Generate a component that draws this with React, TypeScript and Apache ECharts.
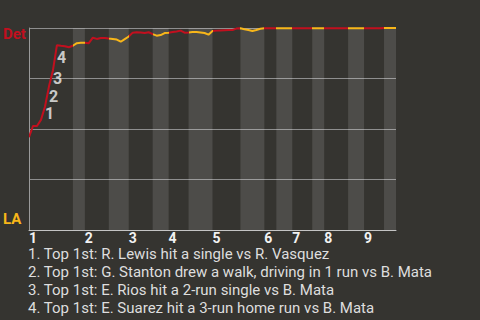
import React, { useEffect, useRef } from "react";
import * as echarts from "echarts";

// Play index (x) and Detroit win probability (y)
const plays = [
  0, 1, 2, 3, 4, 5, 6, 7, 8, 9, 10, 11, 12, 13, 14, 15, 16, 17, 18, 19, 20, 21, 22, 23, 24, 25,
  26, 27, 28, 29, 30, 31, 32, 33, 34, 35, 36, 37, 38, 39, 40, 41, 42, 43, 44, 45, 46, 47, 48, 49,
  50, 51, 52, 53, 54, 55, 56, 57, 58, 59, 62, 66, 71, 74, 80, 84, 88, 89, 92,
];
const winProb = [
  0.46, 0.515, 0.515, 0.545, 0.61, 0.71, 0.79, 0.915, 0.912, 0.91, 0.905, 0.912, 0.925, 0.927,
  0.927, 0.925, 0.952, 0.946, 0.95, 0.951, 0.948, 0.946, 0.943, 0.932, 0.945, 0.958, 0.977, 0.979,
  0.978, 0.975, 0.979, 0.97, 0.962, 0.965, 0.975, 0.977, 0.98, 0.983, 0.987, 0.977, 0.978, 0.98,
  0.98, 0.978, 0.975, 0.967, 0.985, 0.987, 0.988, 0.989, 0.99, 0.99, 0.997, 0.999, 0.994, 0.99,
  0.985, 0.99, 0.996, 0.999, 0.999, 0.999, 0.999, 0.999, 0.999, 0.999, 0.999, 1.0, 1.0,
];

// Half-inning starts (play index)
const topStarts = [0, 14, 25, 35, 46, 59, 66, 74, 84];
const bottomStarts = [11, 20, 31, 40, 53, 62, 71, 80, 89];
const lastPlay = 92;

// Annotated plays (index of the play that ends each annotated segment)
const annotatedPlays = [4, 5, 6, 7];
const notes = [
  "Top 1st: R. Lewis hit a single vs R. Vasquez",
  "Top 1st: G. Stanton drew a walk, driving in 1 run vs B. Mata",
  "Top 1st: E. Rios hit a 2-run single vs B. Mata",
  "Top 1st: E. Suarez hit a 3-run home run vs B. Mata",
];

const teamTop = "Det";
const teamBottom = "LA";

const RED = "#c20f1e";
const GOLD = "#f8b619";

export default function App() {
  const ref = useRef<HTMLDivElement>(null);

  useEffect(() => {
    if (!ref.current) return;
    const chart = echarts.init(ref.current, null, { renderer: "svg" });

    const lineData = plays.map((p, i) => [p, winProb[i]]);
    const pieces: any[] = [];
    topStarts.forEach((s, i) => {
      pieces.push({ gte: s, lt: bottomStarts[i], color: RED });
      pieces.push({ gte: bottomStarts[i], lt: i + 1 < topStarts.length ? topStarts[i + 1] : lastPlay + 1, color: GOLD });
    });
    const bands = bottomStarts.map((s, i) => [
      { xAxis: s },
      { xAxis: i + 1 < topStarts.length ? topStarts[i + 1] : lastPlay },
    ]);
    const annData = annotatedPlays.map((p, i) => {
      const k = plays.indexOf(p);
      return {
        value: [(plays[k - 1] + plays[k]) / 2, (winProb[k - 1] + winProb[k]) / 2],
        label: { formatter: String(i + 1) },
      };
    });

    chart.setOption({
      animation: false,
      backgroundColor: "#353430",
      textStyle: { fontFamily: "Roboto" },
      title: {
        text: notes.map((n, i) => `${i + 1}. ${n}`).join("\n"),
        left: 28,
        top: 245,
        padding: 0,
        textStyle: {
          color: "#dedede",
          fontSize: 15,
          fontWeight: "normal",
          lineHeight: 18,
          fontFamily: "Roboto",
        },
      },
      grid: { left: 28, right: 84, top: 28, bottom: 90 },
      xAxis: {
        type: "value",
        min: 0,
        max: lastPlay,
        axisLine: { show: true, lineStyle: { color: "#c4c4c4", width: 1 } },
        axisTick: { show: false },
        splitLine: { show: false },
        axisLabel: {
          customValues: topStarts,
          formatter: (v: number) => String(topStarts.indexOf(v) + 1),
          align: "left",
          color: "#f2f2f2",
          fontWeight: "bold",
          fontSize: 14,
          lineHeight: 10,
          margin: 3,
        },
      },
      yAxis: {
        type: "value",
        min: 0,
        max: 1,
        interval: 0.25,
        axisLine: { show: true, lineStyle: { color: "#9a9a9a", width: 1 } },
        axisTick: { show: false },
        splitLine: { lineStyle: { color: "#8e8e8e", width: 1 } },
        axisLabel: {
          align: "left",
          margin: 26,
          formatter: (v: number) =>
            v === 1 ? `{top|${teamTop}}` : v === 0 ? `{bot|${teamBottom}}` : "",
          rich: {
            top: { color: RED, fontWeight: "bold", fontSize: 15, padding: [12, 0, 0, 0] },
            bot: { color: GOLD, fontWeight: "bold", fontSize: 15, padding: [0, 0, 22, 0] },
          },
        },
      },
      visualMap: {
        type: "piecewise",
        show: false,
        dimension: 0,
        seriesIndex: 0,
        pieces,
      },
      series: [
        {
          type: "line",
          data: lineData,
          showSymbol: false,
          lineStyle: { width: 2 },
          z: 3,
          markArea: {
            silent: true,
            itemStyle: { color: "rgba(255,255,255,0.12)" },
            data: bands,
          },
        },
        {
          type: "scatter",
          data: annData,
          symbolSize: 0,
          z: 4,
          label: {
            show: true,
            position: "right",
            distance: 2,
            color: "#f2f2f2",
            fontWeight: "bold",
            fontSize: 16,
          },
        },
      ],
    });
    return () => chart.dispose();
  }, []);

  return (
    <div
      ref={ref}
      style={{ position: "absolute", left: 0, top: 0, width: 480, height: 320 }}
    />
  );
}
